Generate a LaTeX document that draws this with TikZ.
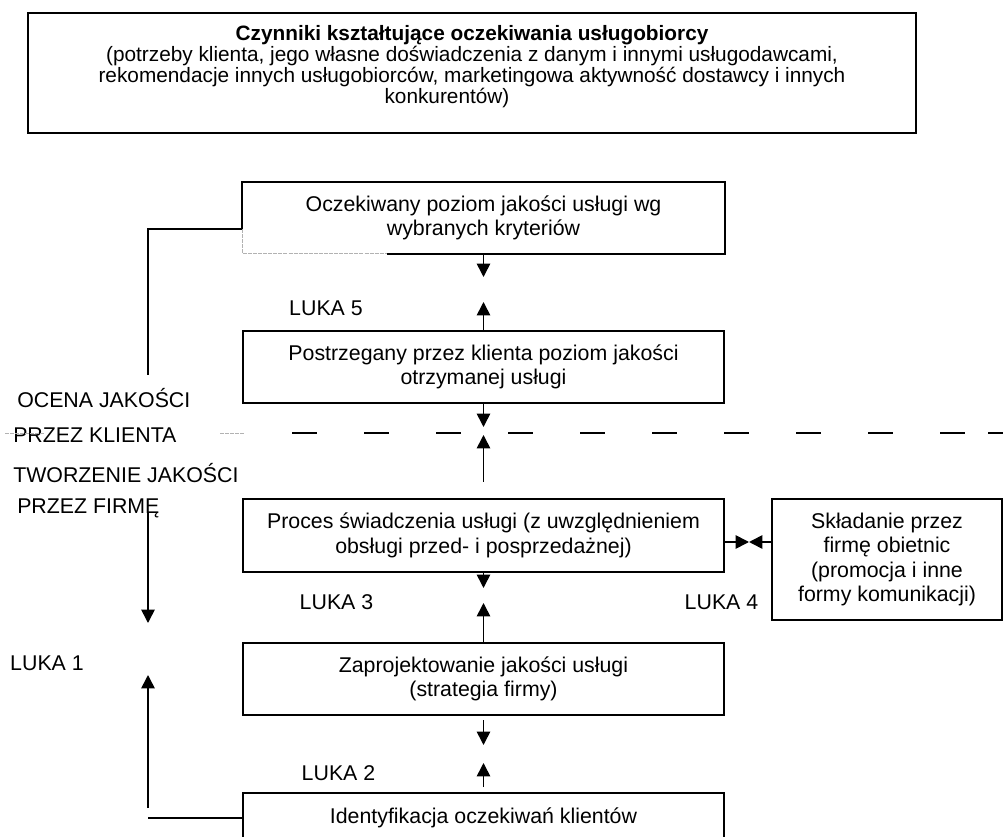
\documentclass[tikz,border=0pt]{standalone}
\usepackage{fontspec}
\setmainfont{Liberation Sans}
\usetikzlibrary{arrows.meta, positioning}

\newcommand{\txtsize}{\fontsize{16}{18.4}\selectfont}
\newcommand{\topsize}{\fontsize{15.6}{15.75}\selectfont}

\tikzset{
	box/.style={draw, line width=1.2pt, minimum width=360.75pt, align=center, inner sep=0pt, font=\txtsize},
	tip/.style={-{Triangle[length=10pt,width=10pt]}, line width=1.2pt},
	conn/.style={line width=1.2pt},
	lbl/.style={inner sep=0pt, font=\txtsize},
	grayline/.style={gray!60, line width=0.6pt, dash pattern=on 3pt off 0.8pt},
}

\begin{document}
\begin{tikzpicture}[x=0.75pt,y=0.75pt,yscale=-1,xscale=1]
		\useasboundingbox (0,0) rectangle (1003,837);
		
		%Shape: Rectangle [czynniki]
		\node (czyn) at (472,73) [box, minimum width=666pt, minimum height=90pt] {};
		% Text Node
		\node (czynT) at (472,66.5) [lbl, align=center, font=\topsize] {\textbf{Czynniki kształtujące oczekiwania usługobiorcy}\\(potrzeby klienta, jego własne doświadczenia z danym i innymi usługodawcami,\hspace*{6pt}\\rekomendacje innych usługobiorców, marketingowa aktywność dostawcy i innych\hspace*{6pt}\\konkurentów)\hspace*{37.5pt}};
		
		%Shape: Rectangle [oczekiwany]
		\node (ocz) at (483.5,218) [box, draw=none, minimum height=52.5pt] {Oczekiwany poziom jakości usługi wg\\wybranych kryteriów};
		\coordinate (oczJoin) at ([yshift=35.25pt]ocz.north west);
		\coordinate (oczGray) at ([xshift=108.75pt]ocz.south west);
		\draw [conn] (oczJoin) -- (ocz.north west) -- (ocz.north east) -- (ocz.south east) -- (oczGray);
		\draw [grayline] (oczJoin) -- (ocz.south west) -- (oczGray);
		%Shape: Rectangle [postrzegany]
		\node (post) at (483.5,367) [box, minimum height=54pt] {Postrzegany przez klienta poziom jakości\\otrzymanej usługi};
		%Shape: Rectangle [proces]
		\node (proc) at (483.5,535.5) [box, minimum height=54.75pt] {Proces świadczenia usługi (z uwzględnieniem\\obsługi przed- i posprzedażnej)};
		%Shape: Rectangle [obietnice]
		\node (obiet) at (887,559.5) [box, minimum width=172.5pt, minimum height=90.75pt] {Składanie przez\\firmę obietnic\\(promocja i inne\\formy komunikacji)};
		%Shape: Rectangle [projekt]
		\node (proj) at (483.5,679) [box, minimum height=54pt] {Zaprojektowanie jakości usługi\\(strategia firmy)};
		%Shape: Rectangle [identyfikacja]
		\node (ident) at (483.5,818) [box, minimum height=37.5pt] {Identyfikacja oczekiwań klientów};
		
		% Text Node
		\node (ocena) at (17,398) [lbl, anchor=west] {OCENA JAKOŚCI};
		% Text Node
		\node (klient) at (13,435) [lbl, anchor=west] {PRZEZ KLIENTA};
		% Text Node
		\node (tworz) at (13,473) [lbl, anchor=west] {TWORZENIE JAKOŚCI};
		% Text Node
		\node (firma) at (17,508) [lbl, anchor=west] {PRZEZ FIRMĘ};
		% Text Node
		\node (luka5) at (326,308) [lbl] {LUKA 5};
		\node (luka3) at (336.5,602) [lbl] {LUKA 3};
		\node (luka4) at (721.5,602) [lbl] {LUKA 4};
		\node (luka1) at (47,663) [lbl] {LUKA 1};
		\node (luka2) at (338.5,773) [lbl] {LUKA 2};
		
		%Straight Lines [separator]
		\draw [grayline] (5,433) -- (45,433);
		\draw [grayline] (220,433) -- (245,433);
		\draw [conn, dash pattern=on 18.75pt off 35.25pt] (292,433) -- (965,433);
		\draw [conn] (988,433) -- (1003,433);
		
		%Straight Lines [gaps in column]
		\coordinate (g5a) at (483.5,277);
		\coordinate (g5b) at (483.5,302);
		\draw [tip] (ocz.south) -- (g5a);
		\draw [tip] (post.north) -- (g5b);
		
		\coordinate (sepA) at (483.5,427);
		\coordinate (sepB) at (483.5,435);
		\coordinate (sepC) at (483.5,482);
		\draw [tip] (post.south) -- (sepA);
		\draw [tip] (sepC) -- (sepB);
		
		\coordinate (g3a) at (483.5,588);
		\coordinate (g3b) at (483.5,603);
		\draw [tip] (proc.south) -- (g3a);
		\draw [tip] (proj.north) -- (g3b);
		
		\coordinate (g2a) at (483.5,720);
		\coordinate (g2b) at (483.5,745);
		\coordinate (g2c) at (483.5,787);
		\coordinate (g2d) at (483.5,763);
		\draw [tip] (g2a) -- (g2b);
		\draw [tip] (g2c) -- (g2d);
		
		%Straight Lines [luka 4]
		\coordinate (meet4) at (749,542);
		\draw [tip] (proc.east |- meet4) -- (meet4);
		\draw [tip] (obiet.west |- meet4) -- (meet4);
		
		%Straight Lines [left side]
		\coordinate (ocenaTop) at (148,375);
		\draw [conn] (oczJoin) -| (ocenaTop);
		\coordinate (l1a) at (148,513);
		\coordinate (l1b) at (148,623);
		\draw [tip] (l1a) -- (l1b);
		\coordinate (l1c) at (148,808);
		\coordinate (l1d) at (148,675);
		\draw [tip] (l1c) -- (l1d);
		\draw [conn] (ident.west) -- (ident.west -| l1c);
		
		\end{tikzpicture}
\end{document}
